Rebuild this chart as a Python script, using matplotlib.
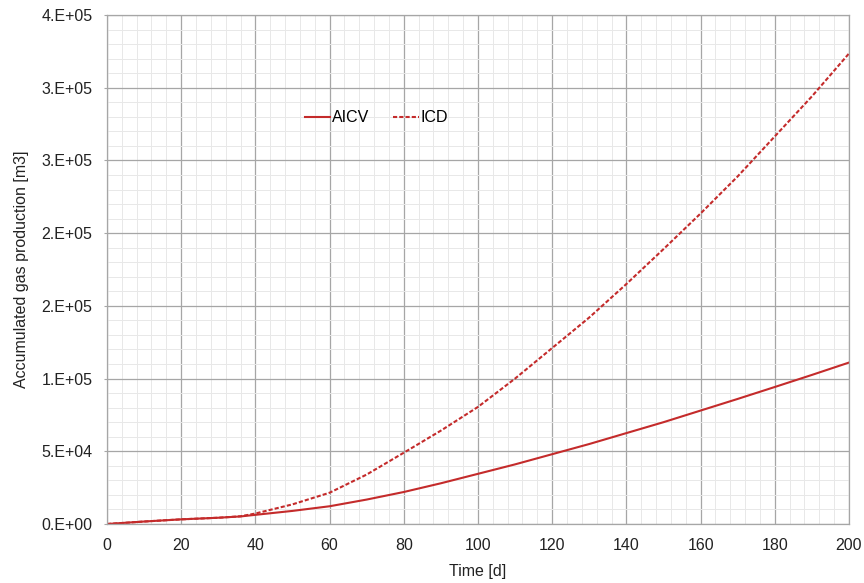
import math
import matplotlib.pyplot as plt
from matplotlib.ticker import MultipleLocator, FuncFormatter

plt.rcParams['font.family'] = ['Liberation Sans', 'DejaVu Sans']

# time [d]
t = [0, 10, 20, 30, 36, 40, 50, 60, 70, 80, 90, 100, 110, 120, 130, 140,
     150, 160, 170, 180, 190, 200]
# accumulated gas production [m3]
aicv = [0, 1.7e3, 3.2e3, 4.3e3, 5.2e3, 6.3e3, 9.0e3, 1.22e4, 1.68e4, 2.2e4,
        2.8e4, 3.45e4, 4.1e4, 4.8e4, 5.5e4, 6.25e4, 7.0e4, 7.8e4, 8.6e4,
        9.42e4, 1.025e5, 1.11e5]
icd = [0, 1.7e3, 3.2e3, 4.3e3, 5.3e3, 7.2e3, 1.35e4, 2.15e4, 3.4e4, 4.9e4,
       6.42e4, 8.05e4, 1.0e5, 1.21e5, 1.42e5, 1.65e5, 1.89e5, 2.135e5, 2.39e5,
       2.665e5, 2.94e5, 3.235e5]


def excel_sci(v, pos):
    """ Excel style 0.E+00 label, mantissa rounded half up """
    if v == 0:
        return '0.E+00'
    e = int(math.floor(math.log10(abs(v))))
    m = int(math.floor(v / 10**e + 0.5))
    if m >= 10:
        m, e = m // 10, e + 1
    return '%d.E%+03d' % (m, e)


red = '#C42B2B'
fs = 11.5
fig = plt.figure(figsize=(8.64, 5.83), dpi=100)
ax = fig.add_axes([0.1238, 0.1012, 0.8588, 0.8731])

ax.plot(t, aicv, '-', color=red, lw=1.5, label='AICV')
ax.plot(t, icd, color=red, lw=1.5, ls=(0, (2, 1)), label='ICD')

ax.set_xlim(0, 200)
ax.set_ylim(0, 3.5e5)
ax.xaxis.set_major_locator(MultipleLocator(20))
ax.xaxis.set_minor_locator(MultipleLocator(4))
ax.yaxis.set_major_locator(MultipleLocator(5e4))
ax.yaxis.set_minor_locator(MultipleLocator(1e4))
ax.yaxis.set_major_formatter(FuncFormatter(excel_sci))

ax.grid(which='major', color='#A6A6A6', lw=0.9)
ax.grid(which='minor', color='#E8E8E8', lw=0.7)
ax.set_axisbelow(True)
for s in ax.spines.values():
    s.set_color('#A6A6A6')
    s.set_linewidth(0.9)
ax.tick_params(which='major', length=2.5, color='#A6A6A6', labelsize=fs,
               labelcolor='#222222')
ax.tick_params(axis='y', pad=8)
ax.tick_params(axis='x', length=0, pad=10)
ax.tick_params(which='minor', length=0)

ax.set_xlabel('Time [d]', fontsize=fs, color='#222222', labelpad=8)
ax.set_ylabel('Accumulated gas production [m3]', fontsize=fs,
              color='#222222', labelpad=9)

ax.legend(loc='center', bbox_to_anchor=(0.363, 0.798), ncol=2,
          frameon=False, fontsize=fs, handlelength=1.6, handletextpad=0.1,
          columnspacing=1.5)

plt.savefig('out.png', dpi=100)
